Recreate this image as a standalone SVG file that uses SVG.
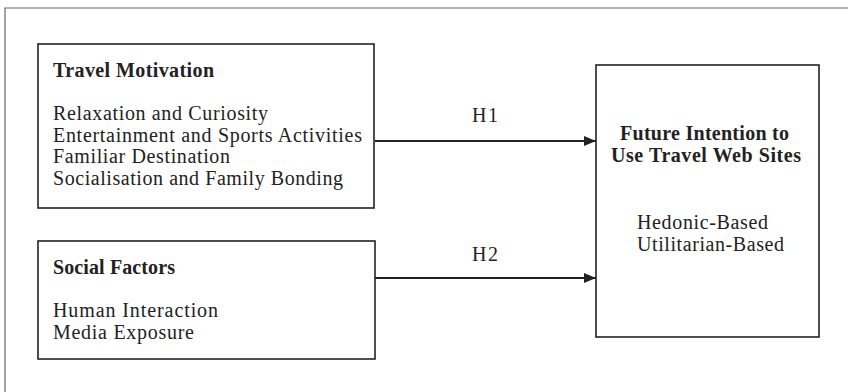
<svg xmlns="http://www.w3.org/2000/svg" width="848" height="392" viewBox="0 0 848 392">
<style>
.box{fill:#fff;stroke:#222;stroke-width:1.6}
.t{font-family:"Liberation Serif",serif;font-size:20px;fill:#222}
.b{font-weight:bold}
.c{stroke:#222;stroke-width:1.8;fill:none}
.frame{stroke:#666;stroke-width:1.2;fill:none}
</style>
<defs>
<marker id="ah" markerWidth="12" markerHeight="10" refX="12" refY="5" orient="auto" markerUnits="userSpaceOnUse">
<path d="M0,0 L12,5 L0,10 Z" fill="#222"/>
</marker>
</defs>
<rect width="848" height="392" fill="#fff"/>
<path class="frame" d="M5,392 L5,8 L848,8"/>
<g id="travel-motivation">
<rect class="box" x="38" y="44" width="336" height="164"/>
<text class="t b" x="53" y="77" textLength="161" lengthAdjust="spacing">Travel Motivation</text>
<text class="t" x="53" y="120" textLength="215" lengthAdjust="spacing">Relaxation and Curiosity</text>
<text class="t" x="53" y="141.5" textLength="309" lengthAdjust="spacing">Entertainment and Sports Activities</text>
<text class="t" x="53" y="163" textLength="177" lengthAdjust="spacing">Familiar Destination</text>
<text class="t" x="53" y="184.5" textLength="290" lengthAdjust="spacing">Socialisation and Family Bonding</text>
</g>
<g id="social-factors">
<rect class="box" x="38" y="241" width="337" height="118"/>
<text class="t b" x="53" y="274" textLength="122" lengthAdjust="spacing">Social Factors</text>
<text class="t" x="53" y="317" textLength="165" lengthAdjust="spacing">Human Interaction</text>
<text class="t" x="53" y="338.5" textLength="141" lengthAdjust="spacing">Media Exposure</text>
</g>
<g id="future-intention">
<rect class="box" x="596" y="65" width="223" height="272"/>
<text class="t b" x="620" y="140" textLength="169" lengthAdjust="spacing">Future Intention to</text>
<text class="t b" x="611" y="162" textLength="190" lengthAdjust="spacing">Use Travel Web Sites</text>
<text class="t" x="637" y="229" textLength="131" lengthAdjust="spacing">Hedonic-Based</text>
<text class="t" x="637" y="250.5" textLength="147" lengthAdjust="spacing">Utilitarian-Based</text>
</g>
<g id="connectors">
<line class="c" x1="375" y1="141" x2="596" y2="141" marker-end="url(#ah)"/>
<line class="c" x1="375" y1="278" x2="596" y2="278" marker-end="url(#ah)"/>
<text class="t" x="472" y="122" textLength="26" lengthAdjust="spacing">H1</text>
<text class="t" x="472" y="261" textLength="26" lengthAdjust="spacing">H2</text>
</g>
</svg>
